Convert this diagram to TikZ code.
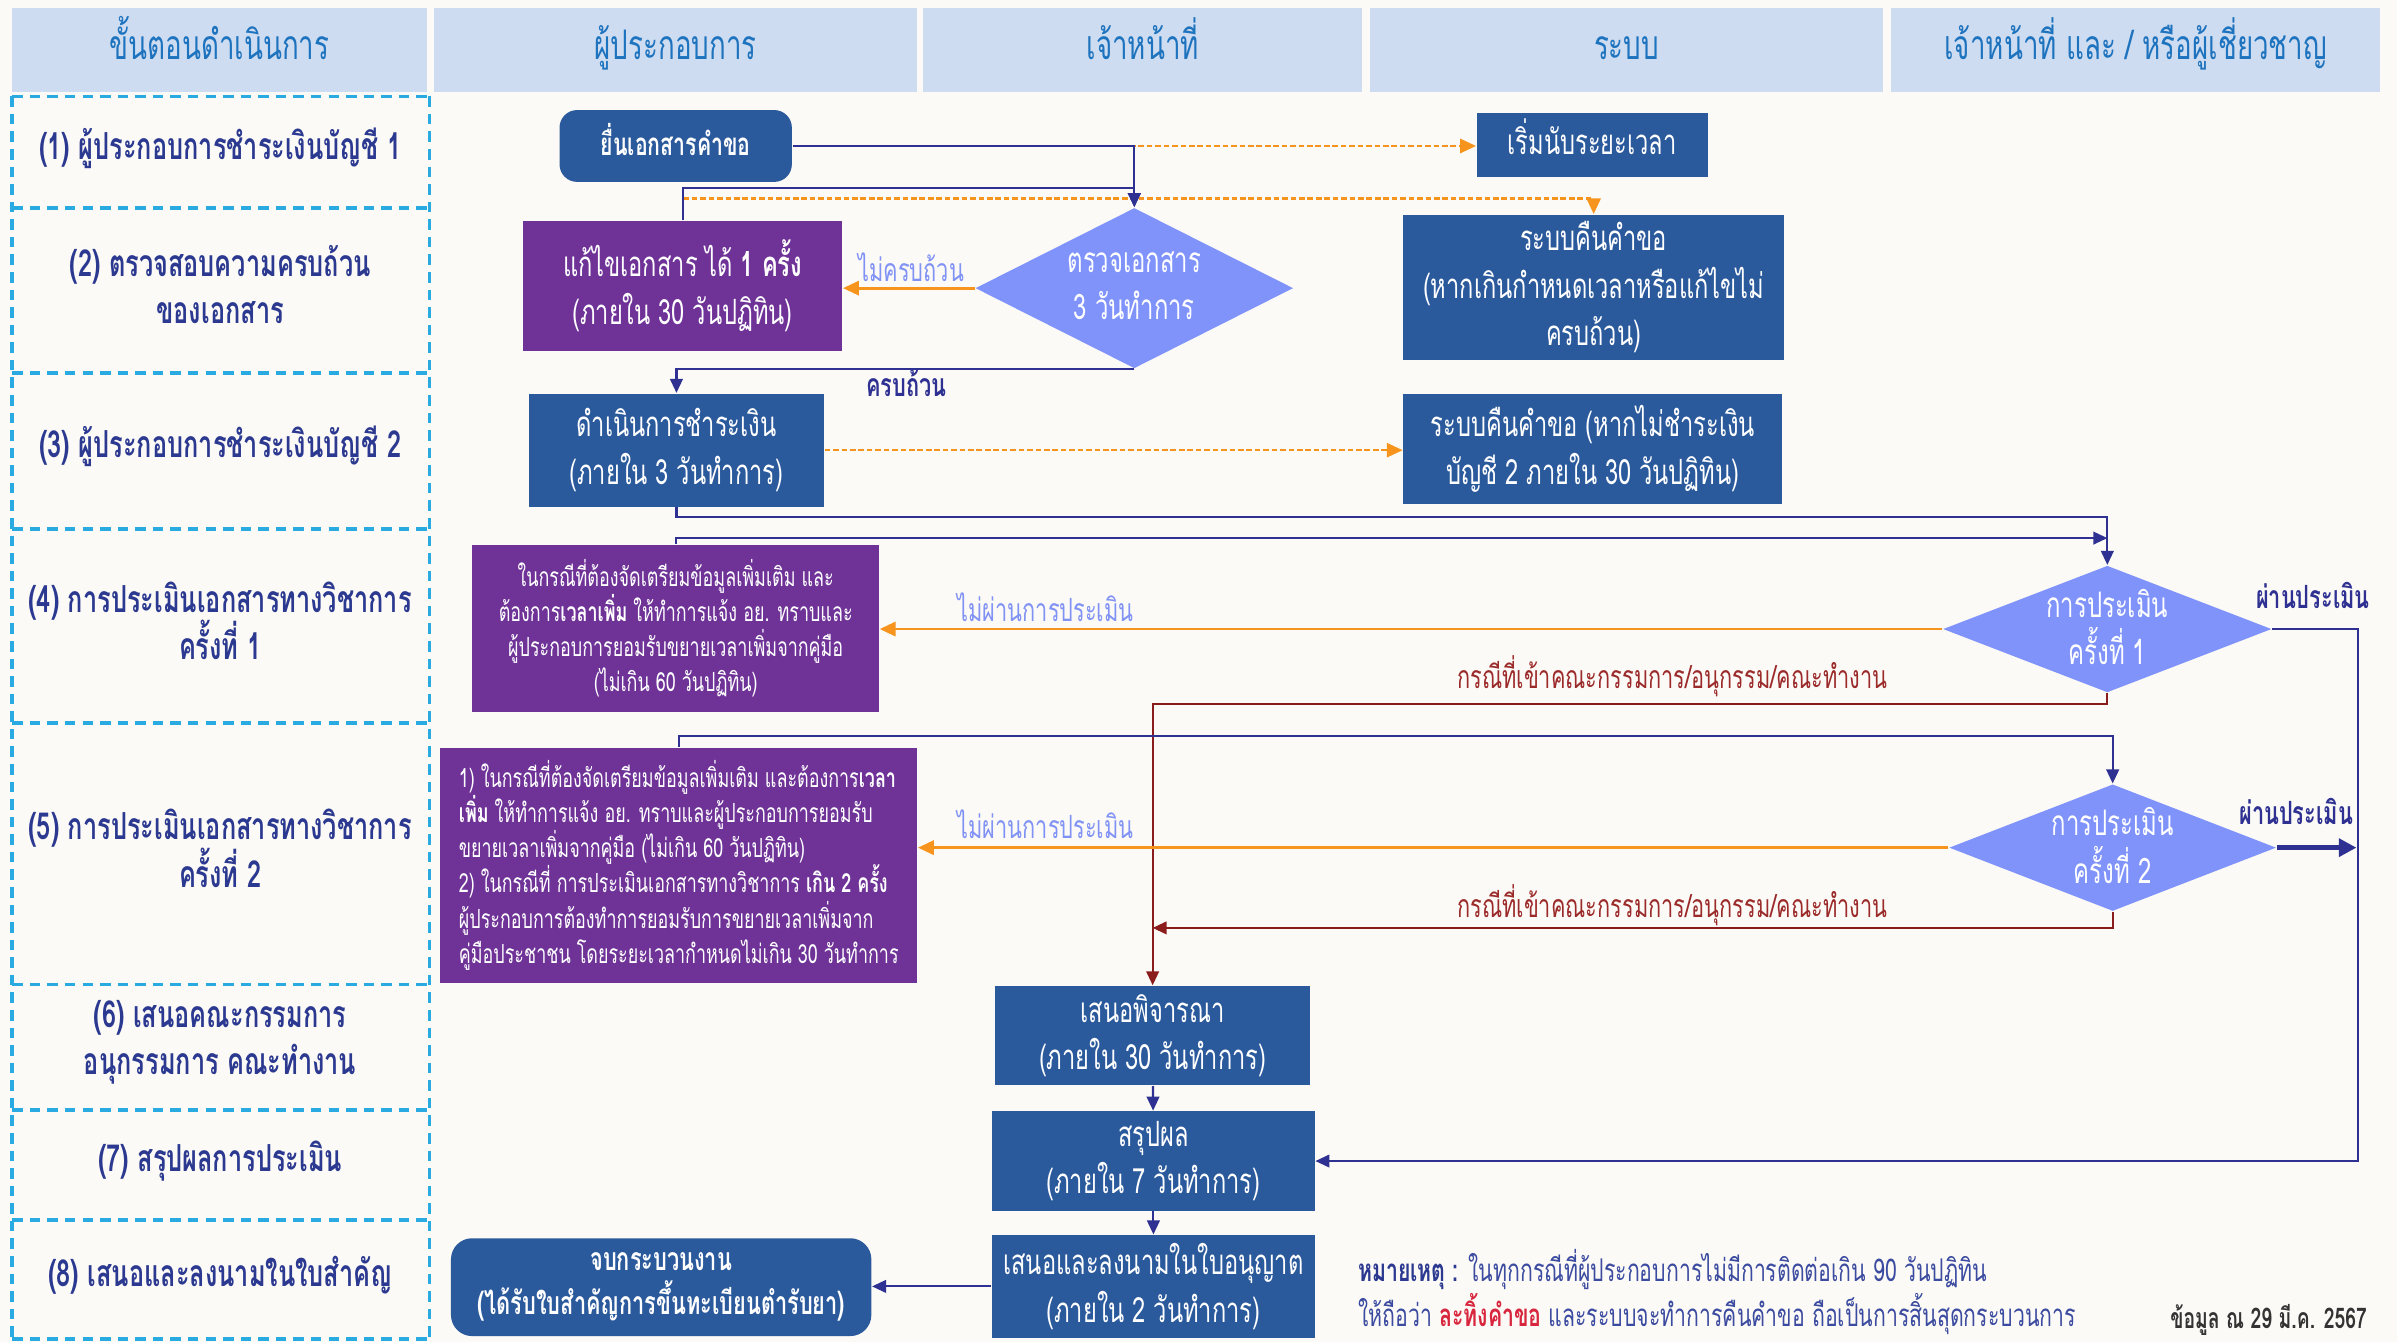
\documentclass[tikz,border=0pt]{standalone}
\usepackage{fontspec}
\setmainfont[Script=Thai,FakeStretch=0.68]{Loma}
\usetikzlibrary{shapes.geometric,arrows.meta}
\definecolor{bgc}{HTML}{FCFAF6}
\definecolor{hdfill}{HTML}{CDDCF1}
\definecolor{hdtext}{HTML}{1E73BE}
\definecolor{lefttext}{HTML}{2B3990}
\definecolor{notetext}{HTML}{3B4BA0}
\definecolor{dashc}{HTML}{29ABE2}
\definecolor{nblue}{HTML}{2B5A9C}
\definecolor{npurple}{HTML}{6F3398}
\definecolor{ndia}{HTML}{7F93FB}
\definecolor{navy}{HTML}{2E3192}
\definecolor{orng}{HTML}{F7941D}
\definecolor{redc}{HTML}{8B1C1C}
\definecolor{redlab}{HTML}{9B2A2A}
\definecolor{lbl}{HTML}{8093F5}
\definecolor{notered}{HTML}{D7263D}
\definecolor{datec}{HTML}{333333}
\begin{document}
\begin{tikzpicture}[x=0.015287cm,y=-0.015287cm,
  sz/.style 2 args={minimum width=#1*0.015287cm, minimum height=#2*0.015287cm},
  one/.style={text height=5.5pt, text depth=0pt},
  hd/.style={fill=hdfill, text=hdtext, inner sep=0, one, font=\fontsize{11.6}{14}\selectfont},
  rowlab/.style={text=lefttext, align=center, font=\bfseries\fontsize{10.6}{13.5}\selectfont},
  bluebox/.style={fill=nblue, text=white, inner sep=0, align=center, font=\fontsize{9.9}{13.5}\selectfont},
  purplebox/.style={fill=npurple, text=white, inner sep=0, align=center, font=\fontsize{9.9}{13.5}\selectfont},
  dia/.style={diamond, fill=ndia, inner sep=0},
  diatext/.style={text=white, align=center, inner sep=0, font=\fontsize{10}{13.5}\selectfont},
  arr/.style={draw=navy, line width=0.6pt, -{Triangle[length=4pt,width=3.6pt]}},
  oarr/.style={draw=orng, line width=0.8pt, -{Triangle[length=4.5pt,width=4pt]}},
  odash/.style={draw=orng, line width=0.7pt, dash pattern=on 1.6pt off 0.8pt, -{Triangle[length=4.5pt,width=4pt]}},
  rarr/.style={draw=redc, line width=0.6pt, -{Triangle[length=4pt,width=3.6pt]}},
  thickarr/.style={draw=navy, line width=1.3pt, -{Triangle[length=5pt,width=5pt]}},
  lab/.style={text=lbl, one, font=\fontsize{9.1}{11}\selectfont},
  rlab/.style={text=redlab, one, font=\fontsize{9.1}{11}\selectfont},
  nlab/.style={text=navy, one, font=\bfseries\fontsize{9.1}{11}\selectfont}
]
\fill[bgc] (0,0) rectangle (1568,878);
\useasboundingbox (0,0) rectangle (1568,878);

% headers
\node[hd, sz={271}{55}] (h1) at (143.5,32.5) {ขั้นตอนดำเนินการ};
\node[hd, sz={316}{55}] (h2) at (442,32.5) {ผู้ประกอบการ};
\node[hd, sz={287}{55}] (h3) at (747.5,32.5) {เจ้าหน้าที่};
\node[hd, sz={336}{55}] (h4) at (1064,32.5) {ระบบ};
\node[hd, sz={320}{55}] (h5) at (1397,32.5) {เจ้าหน้าที่ และ / หรือผู้เชี่ยวชาญ};

% left column dashed grid
\begin{scope}[draw=dashc, line width=1pt, dash pattern=on 3pt off 2pt]
\draw (8,63) -- (8,876);
\draw (281,63) -- (281,876);
\foreach \yy in {63,136,244,346,473,644,726,798,876}
  \draw (8,\yy) -- (281,\yy);
\end{scope}

\node[rowlab, one] (r1) at (144,98) {(1) ผู้ประกอบการชำระเงินบัญชี 1};
\node[rowlab] (r2) at (144,186) {(2) ตรวจสอบความครบถ้วน\\ของเอกสาร};
\node[rowlab, one] (r3) at (144,293) {(3) ผู้ประกอบการชำระเงินบัญชี 2};
\node[rowlab] (r4) at (144,406) {(4) การประเมินเอกสารทางวิชาการ\\ครั้งที่ 1};
\node[rowlab] (r5) at (144,555) {(5) การประเมินเอกสารทางวิชาการ\\ครั้งที่ 2};
\node[rowlab] (r6) at (144,682) {(6) เสนอคณะกรรมการ\\อนุกรรมการ คณะทำงาน};
\node[rowlab, one] (r7) at (144,760) {(7) สรุปผลการประเมิน};
\node[rowlab, one] (r8) at (144,835) {(8) เสนอและลงนามในใบสำคัญ};

% nodes
\node[bluebox, sz={152}{47}, one, rounded corners=5pt, font=\bfseries\fontsize{8.9}{12}\selectfont] (n1) at (442,95.5) {ยื่นเอกสารคำขอ};
\node[bluebox, sz={151}{42}, one] (s1) at (1041.5,95) {เริ่มนับระยะเวลา};
\node[purplebox, sz={209}{85}] (n2) at (446.5,187) {แก้ไขเอกสาร ได้ \textbf{1 ครั้ง}\\(ภายใน 30 วันปฏิทิน)};
\node[dia, sz={208}{105}] (d1) at (742,188.5) {};
\node[diatext] (d1t) at (742,187) {ตรวจเอกสาร\\3 วันทำการ};
\node[bluebox, sz={249}{95}] (s2) at (1042.5,188) {ระบบคืนคำขอ\\(หากเกินกำหนดเวลาหรือแก้ไขไม่\\ครบถ้วน)};
\node[bluebox, sz={193}{74}] (n3) at (442.5,294.5) {ดำเนินการชำระเงิน\\(ภายใน 3 วันทำการ)};
\node[bluebox, sz={248}{72}] (s3) at (1042,293.5) {ระบบคืนคำขอ (หากไม่ชำระเงิน\\บัญชี 2 ภายใน 30 วันปฏิทิน)};
\node[purplebox, sz={266}{109}, font=\fontsize{7.5}{10}\selectfont] (n4) at (442,411) {ในกรณีที่ต้องจัดเตรียมข้อมูลเพิ่มเติม และ\\ต้องการ\textbf{เวลาเพิ่ม} ให้ทำการแจ้ง อย. ทราบและ\\ผู้ประกอบการยอมรับขยายเวลาเพิ่มจากคู่มือ\\(ไม่เกิน 60 วันปฏิทิน)};
\node[dia, sz={215}{83}] (d2) at (1378.5,411.5) {};
\node[diatext] (d2t) at (1378.5,410) {การประเมิน\\ครั้งที่ 1};
\node[purplebox, sz={312}{154}, align=left, font=\fontsize{7.5}{10}\selectfont] (n5) at (444,566) {1) ในกรณีที่ต้องจัดเตรียมข้อมูลเพิ่มเติม และต้องการ\textbf{เวลา}\\\textbf{เพิ่ม} ให้ทำการแจ้ง อย. ทราบและผู้ประกอบการยอมรับ\\ขยายเวลาเพิ่มจากคู่มือ (ไม่เกิน 60 วันปฏิทิน)\\2) ในกรณีที่ การประเมินเอกสารทางวิชาการ \textbf{เกิน 2 ครั้ง}\\ผู้ประกอบการต้องทำการยอมรับการขยายเวลาเพิ่มจาก\\คู่มือประชาชน โดยระยะเวลากำหนดไม่เกิน 30 วันทำการ};
\node[dia, sz={214}{83}] (d3) at (1382,554.5) {};
\node[diatext] (d3t) at (1382,553) {การประเมิน\\ครั้งที่ 2};
\node[bluebox, sz={206}{65}] (m1) at (754,677.5) {เสนอพิจารณา\\(ภายใน 30 วันทำการ)};
\node[bluebox, sz={211}{65}] (m2) at (754.5,759.5) {สรุปผล\\(ภายใน 7 วันทำการ)};
\node[bluebox, sz={211}{67}] (m3) at (754.5,841.5) {เสนอและลงนามในใบอนุญาต\\(ภายใน 2 วันทำการ)};
\node[bluebox, sz={275}{64}, rounded corners=6pt, font=\bfseries\fontsize{9.1}{12.5}\selectfont] (n8) at (432.5,842) {จบกระบวนงาน\\(ได้รับใบสำคัญการขึ้นทะเบียนตำรับยา)};

% connectors
\coordinate (o2) at (447,130);
\coordinate (j4) at (1378.5,352);
\coordinate (j5) at (754,607);
\draw[odash] (n1.east) -- (n1.east -| s1.west);
\draw[odash] (o2) -| (s2.north);
\draw[arr] (n1.east) -| (d1.north);
\draw[arr] (n2.north) -- ++(0,-21) -| (d1.north);
\draw[oarr] (d1.west) -- (d1.west -| n2.east);
\draw[arr] (d1.south) -| (n3.north);
\draw[odash] (n3.east) -- (n3.east -| s3.west);
\draw[arr] (n3.south) -- ++(0,6) -| (d2.north);
\draw[arr] (n4.north) |- (j4);
\draw[oarr] (d2.west) -- (d2.west -| n4.east);
\draw[rarr] (d2.south) -- ++(0,7) -| (m1.north);
\draw[arr] (d2.east) -- ++(56,0) |- (m2.east);
\draw[arr] (n5.north) -- ++(0,-7) -| (d3.north);
\draw[oarr] (d3.west) -- (d3.west -| n5.east);
\draw[rarr] (d3.south) |- (j5);
\draw[thickarr] (d3.east) -- ++(52,0);
\draw[arr] (m1) -- (m2);
\draw[arr] (m2) -- (m3);
\draw[arr] (m3.west) -- (m3.west -| n8.east);

% connector labels
\node[lab] (l1) at (596,178) {ไม่ครบถ้วน};
\node[nlab] (l2) at (593,253) {ครบถ้วน};
\node[lab] (l3) at (684,400) {ไม่ผ่านการประเมิน};
\node[lab] (l4) at (684,542) {ไม่ผ่านการประเมิน};
\node[rlab] (l5) at (1094,444) {กรณีที่เข้าคณะกรรมการ/อนุกรรม/คณะทำงาน};
\node[rlab] (l6) at (1094,594) {กรณีที่เข้าคณะกรรมการ/อนุกรรม/คณะทำงาน};
\node[nlab] (l7) at (1513,392) {ผ่านประเมิน};
\node[nlab] (l8) at (1502,533) {ผ่านประเมิน};

% note
\node[anchor=west, align=left, text=notetext, inner sep=0, font=\fontsize{8.9}{11.7}\selectfont] (note) at (888,845) {\textbf{\color{lefttext}หมายเหตุ :} ในทุกกรณีที่ผู้ประกอบการไม่มีการติดต่อเกิน 90 วันปฏิทิน\\ให้ถือว่า \textbf{\color{notered}ละทิ้งคำขอ} และระบบจะทำการคืนคำขอ ถือเป็นการสิ้นสุดกระบวนการ};
\node[text=datec, one, font=\bfseries\fontsize{8.1}{10}\selectfont] (date) at (1484,863) {ข้อมูล ณ 29 มี.ค. 2567};
\end{tikzpicture}
\end{document}
